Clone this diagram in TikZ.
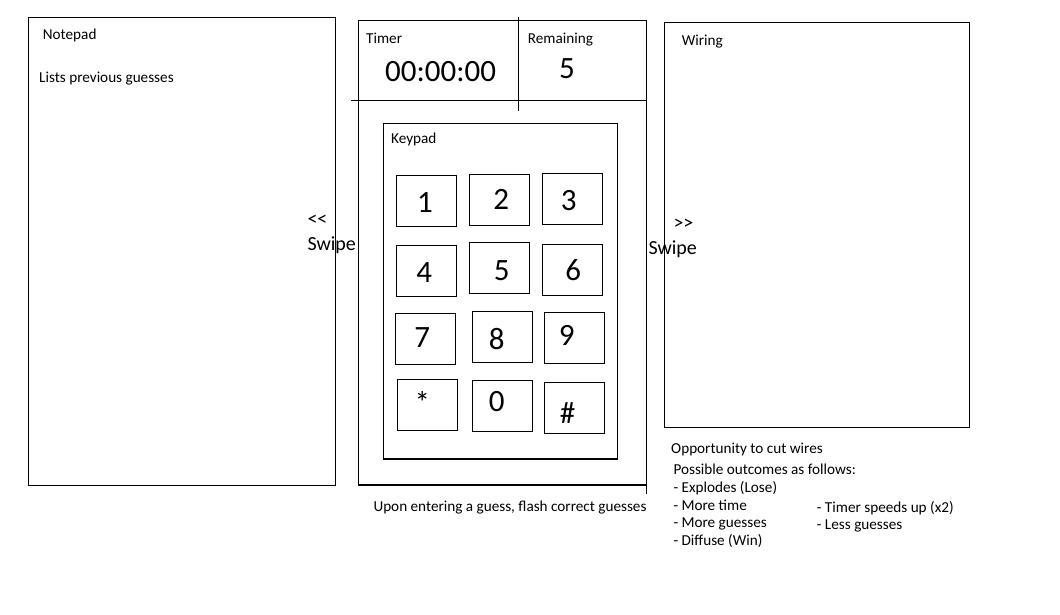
\documentclass[tikz,border=0pt]{standalone}
\usepackage{fontspec}
\setmainfont{Carlito}
\begin{document}
\begin{tikzpicture}[x=1pt,y=-1pt,
  frame/.style={draw, line width=1.3pt},
  keybox/.style={draw, line width=1.3pt, minimum width=60pt, minimum height=51pt, inner sep=0pt},
  small/.style={anchor=base west, inner sep=0pt, font=\fontsize{15.2}{18}\selectfont},
  big/.style={anchor=base, inner sep=0pt, font=\fontsize{31}{37}\selectfont},
  bigw/.style={anchor=base west, inner sep=0pt, font=\fontsize{31}{37}\selectfont},
  swipe/.style={anchor=base west, inner sep=0pt, font=\fontsize{20}{24}\selectfont}]
\useasboundingbox (0,0) rectangle (1060,614);
% panels
\draw[frame] (28.3,17.3) rectangle (335.3,485.3);
\draw[frame] (358.3,20.7) rectangle (646.3,485);
\draw[frame] (664.3,22.7) rectangle (969.3,427.3);
\draw[frame] (383.3,123.5) rectangle (617.3,459);
\coordinate (hL) at (351,100.3);
\coordinate (hR) at (646.3,100.3);
\coordinate (vT) at (518.3,17.3);
\coordinate (vB) at (518.3,111);
\coordinate (eT) at (646.3,485);
\coordinate (eB) at (646.3,494);
\draw[line width=1.3pt] (hL) -- (hR);
\draw[line width=1.3pt] (vT) -- (vB);
\draw[line width=1.3pt] (eT) -- (eB);
% labels
\node[small] (notepad) at (42.7,39) {Notepad};
\node[small] (lists) at (39,82.7) {Lists previous guesses};
\node[small] (timer) at (366,43.3) {Timer};
\node[small] (remaining) at (527.7,43.3) {Remaining};
\node[bigw] (clock) at (385,81.7) {00:00:00};
\node[big] (count) at (567,78.3) {5};
\node[small] (keypad) at (391,143.3) {Keypad};
\node[small] (wiring) at (681.7,45) {Wiring};
\node[swipe] (ll) at (307.3,225.5) {{<}{<}};
\node[swipe] (sl) at (307.3,250) {Swipe};
\node[swipe] (rr) at (673.3,229) {{>}{>}};
\node[swipe] (sr) at (648.3,254.3) {Swipe};
\node[small] (upon) at (373.3,511.7) {Upon entering a guess, flash correct guesses};
\node[small] (opp) at (671,453.3) {Opportunity to cut wires};
\node[small] (poss) at (673.3,474) {Possible outcomes as follows:};
\node[small] (o1) at (673.3,492.3) {- Explodes (Lose)};
\node[small] (o2) at (673.3,510) {- More time};
\node[small] (o3) at (673.3,527.7) {- More guesses};
\node[small] (o4) at (673.3,545.3) {- Diffuse (Win)};
\node[small] (o5) at (816.7,512.3) {- Timer speeds up (x2)};
\node[small] (o6) at (816.7,529.3) {- Less guesses};
% keys
\node[keybox] (k1) at (426.5,200.8) {};
\node[keybox] (k2) at (499.3,199.8) {};
\node[keybox] (k3) at (572.3,198.8) {};
\node[keybox] (k4) at (426.5,270.8) {};
\node[keybox] (k5) at (499.3,267.8) {};
\node[keybox] (k6) at (572.3,269.8) {};
\node[keybox] (k7) at (425.3,338.8) {};
\node[keybox] (k8) at (502.3,336.8) {};
\node[keybox] (k9) at (574.3,337.8) {};
\node[keybox] (ks) at (427.3,404.8) {};
\node[keybox] (k0) at (502.3,405.8) {};
\node[keybox] (kh) at (574.3,407.8) {};
\node[big] (d1) at (425,212.3) {1};
\node[big] (d2) at (501.3,209) {2};
\node[big] (d3) at (568.7,210.7) {3};
\node[big] (d4) at (424.3,282.7) {4};
\node[big] (d5) at (501.7,280) {5};
\node[big] (d6) at (573.3,280.7) {6};
\node[big] (d7) at (422.3,347.3) {7};
\node[big] (d8) at (496.7,349.3) {8};
\node[big] (d9) at (566.7,345.7) {9};
\node[big] (ds) at (422.3,413) {*};
\node[big] (d0) at (496.7,411.7) {0};
\node[big] (dh) at (567.7,423.3) {\#};
\end{tikzpicture}
\end{document}
